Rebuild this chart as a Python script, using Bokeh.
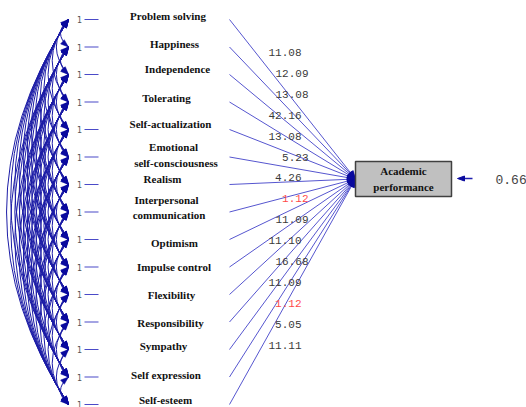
import numpy as np
from bokeh.plotting import figure
from bokeh.models import Range1d
from bokeh.core.properties import value
from bokeh.embed import file_html
from bokeh.resources import INLINE

# ---------------- data ----------------
variables = [
    ["Problem solving"], ["Happiness"], ["Independence"], ["Tolerating"],
    ["Self-actualization"], ["Emotional", "self-consciousness"], ["Realism"],
    ["Interpersonal", "communication"], ["Optimism"], ["Impulse control"],
    ["Flexibility"], ["Responsibility"], ["Sympathy"], ["Self expression"],
    ["Self-esteem"],
]
variances = [1, 1, 1, 1, 1, 1, 1, 1, 1, 1, 1, 1, 1, 1, 1]
t_values = [11.08, 12.09, 13.08, 42.16, 13.08, 5.23, 4.26, 1.12,
            11.09, 11.10, 16.68, 11.09, 1.12, 5.05, 11.11]
outcome = ["Academic", "performance"]
error_variance = 0.66
critical_t = 1.96

# ---------------- layout (pixels) ----------------
n = len(variables)
row_y = 19 + 27.5 * np.arange(n)
arc_x = 68.0
label_cx = [[167.5], [174], [177], [166], [170], [173, 175.5], [162],
            [166, 168.5], [174], [173.5], [171], [170], [163], [165.5], [165]]
label_dy = [[-4], [-3], [-6], [-4], [-6], [-10, 6], [-6], [-12, 3], [3], [0],
            [0], [1], [-4], [-2], [-5]]
val_shift = [0, 1, 1, 0, 0, 1, 0, 1, 1, 0, 1, 0, 0, 0, 0]
box = dict(left=355, right=451, top=161, bottom=196)
tip = np.array([box["left"], 178.5])

ARC_COL = "#1c1ca6"
PATH_COL = "#5656cf"
HEAD_COL = "#0a0a9e"

p = figure(width=526, height=407, output_backend="svg", toolbar_location=None,
           x_range=Range1d(0, 526), y_range=Range1d(407, 0),
           min_border=0, outline_line_color=None)
p.axis.visible = False
p.grid.visible = False
p.background_fill_color = "white"


def head(tp, frm, L, W):
    tp = np.asarray(tp, float)
    frm = np.asarray(frm, float)
    u = (tp - frm) / np.hypot(*(tp - frm))
    base = tp - L * u
    perp = np.array([-u[1], u[0]])
    a = base + W * perp
    b = base - W * perp
    return [tp[0], a[0], b[0]], [tp[1], a[1], b[1]]

# covariance arcs between all exogenous pairs
x0, y0, x1, y1, cxs, cys = [], [], [], [], [], []
hx, hy = [], []
for i in range(n):
    for j in range(i + 1, n):
        d = j - i
        bulge = 16 + 8.3 * (d - 1)
        c = (arc_x - bulge, (row_y[i] + row_y[j]) / 2)
        x0.append(arc_x); y0.append(row_y[i])
        x1.append(arc_x); y1.append(row_y[j])
        cxs.append(c[0]); cys.append(c[1])
        for yy in (row_y[i], row_y[j]):
            xs, ys = head((arc_x, yy), c, 8, 2.8)
            hx.append(xs); hy.append(ys)
p.quadratic(x0=x0, y0=y0, x1=x1, y1=y1, cx=cxs, cy=cys,
            line_color=ARC_COL, line_width=1)
p.patches(hx, hy, fill_color=HEAD_COL, line_color=HEAD_COL, line_width=0.5)

# variance markers "1 —"
p.text(x=[79] * n, y=list(row_y), text=[str(v) for v in variances],
       text_font=value("DejaVu Sans"), text_font_size="8px", text_color="#555555",
       text_align="center", text_baseline="middle")
p.segment(x0=[84] * n, y0=list(row_y), x1=[98] * n, y1=list(row_y),
          line_color="#4a4ac8", line_width=1.2)

# variable labels
tx, ty, tt = [], [], []
for k, lines in enumerate(variables):
    for li, s in enumerate(lines):
        tx.append(label_cx[k][li]); ty.append(row_y[k] + label_dy[k][li]); tt.append(s)
p.text(x=tx, y=ty, text=tt, text_font=value("Liberation Serif"),
       text_font_style="bold", text_font_size="11px", text_color="#111111",
       text_align="center", text_baseline="middle")

# structural paths
px0, py0, px1, py1, phx, phy = [], [], [], [], [], []
for k in range(n):
    start = np.array([229.0, row_y[k]])
    u = (tip - start) / np.hypot(*(tip - start))
    end = tip - 6 * u
    px0.append(start[0]); py0.append(start[1]); px1.append(end[0]); py1.append(end[1])
    xs, ys = head(tip, start, 8, 3.5)
    phx.append(xs); phy.append(ys)
p.segment(x0=px0, y0=py0, x1=px1, y1=py1, line_color=PATH_COL, line_width=1)
p.patches(phx, phy, fill_color=HEAD_COL, line_color=HEAD_COL, line_width=0.5)

# t-values
vy = 52 + 20.9 * np.arange(n)
vx = [301 + 7 * s for s in val_shift]
vcol = ["#ff4a4a" if t < critical_t else "#3a3a3a" for t in t_values]
p.text(x=vx, y=list(vy), text=[f"{t:.2f}" for t in t_values],
       text_font=value("Liberation Mono"), text_font_size="11px", text_color=vcol,
       text_align="right", text_baseline="middle")

# outcome box
p.quad(left=[box["left"]], right=[box["right"]], top=[box["top"]], bottom=[box["bottom"]],
       fill_color="#c0c0c0", line_color="#404040", line_width=1.5)
bx = (box["left"] + box["right"]) / 2
p.text(x=[bx, bx], y=[170, 186], text=outcome, text_font=value("Liberation Serif"),
       text_font_style="bold", text_font_size="11px", text_color="#111111",
       text_align="center", text_baseline="middle")

# error arrow
p.segment(x0=[472], y0=[178], x1=[461], y1=[178], line_color="#2020b0", line_width=1.3)
ex, ey = head((457, 178), (472, 178), 7, 2.5)
p.patch(ex, ey, fill_color=HEAD_COL, line_color=HEAD_COL)
p.text(x=[495], y=[178.5], text=[f"{error_variance:.2f}"], text_font=value("Liberation Mono"),
       text_font_size="13px", text_color="#444444", text_align="left", text_baseline="middle")

open("out.html", "w").write(file_html(p, INLINE))
